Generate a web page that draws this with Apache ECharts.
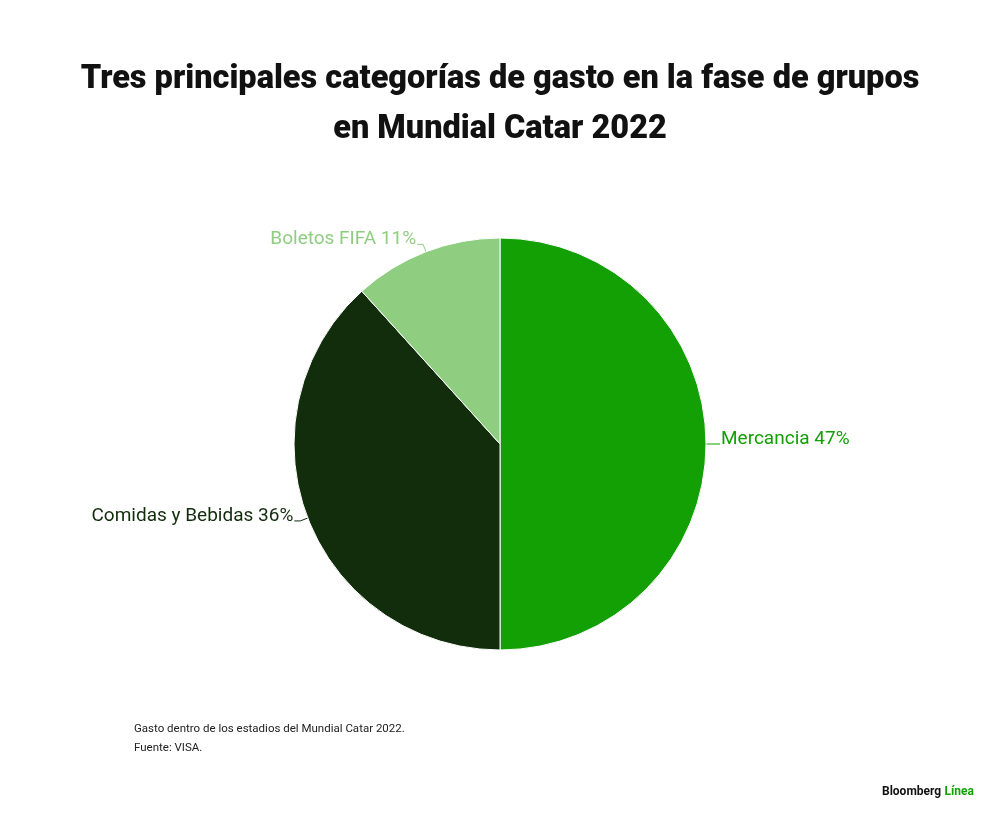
<!DOCTYPE html>
<html>
<head>
<meta charset="utf-8">
<script src="https://cdn.jsdelivr.net/npm/echarts@6/dist/echarts.min.js"></script>
<style>html,body{margin:0;padding:0;background:#fff}#c{width:1000px;height:820px}</style>
</head>
<body>
<div id="c"></div>
<script>
const categories = ['Mercancia', 'Comidas y Bebidas', 'Boletos FIFA'];
const values = [47, 36, 11];
const colors = ['#12a005', '#112d0c', '#8fce80'];
const titleLines = ['Tres principales categorías de gasto en la fase de grupos', 'en Mundial Catar 2022'];
const notes = ['Gasto dentro de los estadios del Mundial Catar 2022.', 'Fuente: VISA.'];

const chart = echarts.init(document.getElementById('c'), null, {renderer: 'canvas'});
const data = categories.map((n, i) => ({
  name: n, value: values[i],
  itemStyle: {color: colors[i]},
  label: {color: colors[i]},
  labelLine: {lineStyle: {color: colors[i]}}
}));
chart.setOption({
  backgroundColor: '#fff',
  animation: false,
  title: {
    text: titleLines.join('\n'),
    left: 'center', top: 50,
    textStyle: {fontFamily: 'Roboto', fontWeight: 900, fontSize: 32.5, lineHeight: 50, color: '#111'}
  },
  series: [{
    type: 'pie',
    center: [500, 444],
    radius: [0, 206],
    startAngle: 90,
    clockwise: true,
    avoidLabelOverlap: false,
    itemStyle: {borderColor: '#fff', borderWidth: 1},
    label: {
      show: true,
      fontFamily: 'Roboto', fontSize: 19,
      formatter: p => p.name + ' ' + p.value + '%',
      distanceToLabelLine: 1
    },
    labelLayout: {dy: -5},
    labelLine: {show: true, length: 8, length2: 6, lineStyle: {width: 1}},
    data: data
  }],
  graphic: [
    {type: 'text', left: 134, top: 720, style: {text: notes.join('\n'), fontFamily: 'Roboto', fontSize: 11.5, lineHeight: 19, fill: '#222'}},
    {type: 'text', left: 882, top: 786, style: {
      text: '{a|Bloomberg} {b|Línea}',
      rich: {a: {fontFamily: 'Roboto', fontWeight: 'bold', fontSize: 12, fill: '#111'}, b: {fontFamily: 'Roboto', fontWeight: 'bold', fontSize: 12, fill: '#12a005'}}
    }}
  ]
});
</script>
</body>
</html>
